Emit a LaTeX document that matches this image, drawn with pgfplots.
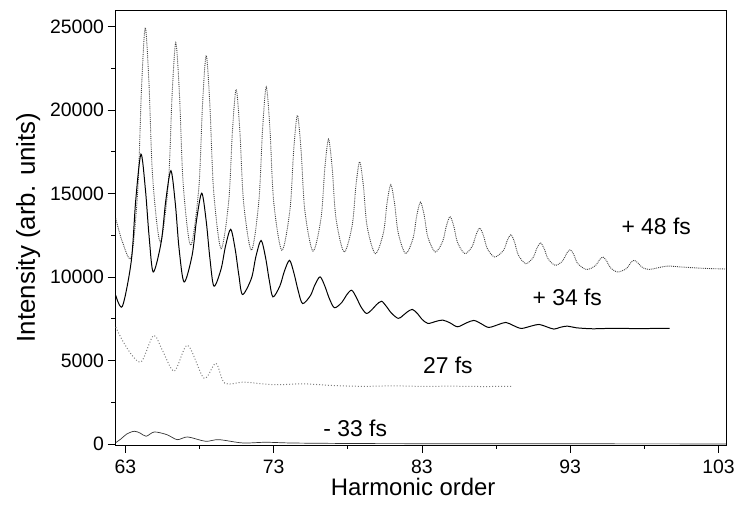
\documentclass[border=0pt]{standalone}
\usepackage{fontspec}
\setmainfont{Liberation Sans}
\usepackage{pgfplots}
\pgfplotsset{compat=1.18}
\begin{document}
\begin{tikzpicture}
\begin{axis}[name=ax,
  width=614pt, height=437pt, scale only axis,
  xmin=62.33, xmax=103.55, ymin=-60, ymax=26000,
  xtick={63,73,83,93,103}, minor xtick={68,78,88,98},
  ytick={0,5000,10000,15000,20000,25000}, minor ytick={2500,7500,12500,17500,22500},
  tick align=outside, tick pos=left,
  major tick length=8pt, minor tick length=4pt,
  scaled y ticks=false, scaled x ticks=false,
  /pgf/number format/1000 sep={},
  /pgf/number format/assume math mode=true,
  tick label style={font=\fontsize{19.5}{22}\selectfont},
  xticklabel style={yshift=-4pt},
  xlabel={Harmonic order}, ylabel={Intensity (arb. units)},
  every axis x label/.style={at={(axis description cs:0.487,-0.096)}, anchor=center, font=\fontsize{24}{28}\selectfont},
  every axis y label/.style={at={(axis description cs:-0.143,0.5)}, rotate=90, anchor=center, font=\fontsize{26}{30}\selectfont},
  axis line style={line width=0.8pt},
  every tick/.style={line width=0.8pt, black},
]
% +48 fs
\addplot[densely dotted, black!75, line width=0.9pt, smooth, tension=0.5] coordinates {
(62.35,13500)(62.8,12100)(63.4,11200)
(63.84,15320)(64.09,21370)(64.34,24940)(64.59,21600)(64.84,15950)(65.35,12100)
(65.9,15680)(66.15,20930)(66.4,24030)(66.65,20880)(66.9,15540)(67.4,11900)
(67.95,15310)(68.2,20310)(68.45,23270)(68.7,20260)(68.95,15170)(69.45,11700)
(69.97,14560)(70.22,18760)(70.47,21240)(70.72,18730)(70.97,14490)(71.5,11600)
(72.0,14530)(72.25,18840)(72.5,21380)(72.75,18840)(73.0,14530)(73.55,11600)
(74.1,14030)(74.35,17590)(74.6,19690)(74.85,17570)(75.1,13990)(75.65,11550)
(76.2,13560)(76.45,16520)(76.7,18260)(76.95,16500)(77.2,13530)(77.75,11500)
(78.3,13120)(78.55,15500)(78.8,16900)(79.05,15470)(79.3,13050)(79.85,11400)
(80.4,12640)(80.65,14460)(80.9,15530)(81.15,14430)(81.4,12640)(81.9,11400)
(82.4,12320)(82.65,13680)(82.9,14480)(83.15,13710)(83.4,12390)(83.9,11500)
(84.4,12140)(84.65,13070)(84.9,13620)(85.15,13040)(85.4,12070)(85.9,11400)
(86.4,11860)(86.65,12530)(86.9,12930)(87.15,12480)(87.4,11720)(87.9,11200)
(88.5,11600)(88.75,12180)(89.0,12530)(89.25,12080)(89.5,11320)(90.0,10800)
(90.5,11170)(90.75,11720)(91.0,12040)(91.25,11690)(91.5,11100)(92.0,10700)
(92.5,10980)(92.75,11400)(93.0,11640)(93.25,11330)(93.5,10810)(94.1,10450)
(94.7,10680)(94.95,11000)(95.2,11200)(95.45,10970)(95.7,10570)(96.2,10300)
(96.8,10510)(97.05,10820)(97.3,11000)(97.55,10860)(97.8,10620)(98.3,10450)
(99.5,10650)(100.5,10600)(102,10520)(103.5,10480)
};
% +34 fs
\addplot[black, line width=1pt, smooth, tension=0.5] coordinates {
(62.35,8900)(62.8,8250)
(63.4,10980)(63.7,14630)(64.05,17360)(64.35,15240)(64.6,12420)(64.88,10300)
(65.42,12120)(65.72,14550)(66.07,16370)(66.37,14370)(66.62,11700)(66.96,9700)
(67.5,11300)(67.8,13420)(68.15,15020)(68.45,13350)(68.7,11120)(68.97,9450)
(69.45,10470)(69.75,11840)(70.1,12860)(70.4,11690)(70.65,10120)(70.9,8950)
(71.5,9920)(71.8,11220)(72.15,12190)(72.45,11180)(72.7,9820)(72.95,8810)
(73.42,9470)(73.72,10340)(74.07,11000)(74.37,10220)(74.65,9190)(74.95,8410)
(75.48,8890)(75.78,9530)(76.13,10010)(76.45,9460)(76.75,8720)(77.1,8160)
(77.6,8480)(77.9,8900)(78.25,9210)(78.57,8790)(78.87,8240)(79.25,7820)
(79.62,8040)(79.92,8330)(80.27,8550)(80.6,8240)(80.95,7830)(81.4,7520)
(81.7,7680)(82.0,7900)(82.35,8060)(82.7,7810)(83.0,7470)(83.4,7220)
(83.9,7330)(84.4,7420)(84.9,7250)(85.4,7020)
(86.0,7250)(86.5,7400)(87.0,7200)(87.5,6980)
(88.15,7150)(88.66,7280)(89.15,7100)(89.7,6920)
(90.4,7070)(90.9,7160)(91.4,7020)(91.9,6880)
(92.3,6980)(92.8,7060)(93.4,6960)(94.5,6900)(96,6930)(97.5,6910)(99.7,6930)
};
% 27 fs
\addplot[dotted, black!50, line width=1pt, smooth, tension=0.5] coordinates {
(62.35,7000)(62.8,6200)(63.5,5250)(64.1,4950)(64.9,6500)(65.5,5600)(66.3,4360)
(67.2,5910)(68.3,3940)(69.1,4830)(69.7,3640)(71,3700)(73,3550)(75,3600)(77,3500)
(79,3450)(81,3480)(83,3450)(85,3460)(87,3440)(89.1,3450)
};
% -33 fs
\addplot[black!80, line width=0.7pt, smooth, tension=0.5] coordinates {
(62.35,80)(62.7,300)(63.1,600)(63.6,760)(64.0,650)(64.4,460)(64.95,716)(65.8,555)
(66.5,257)(67.2,418)(68.4,160)(69.3,257)(70.9,60)(72.45,100)(74,60)(76,40)(80,20)
(90,10)(103.5,0)
};
\node[font=\fontsize{23}{27}\selectfont] at (axis cs:98.8,13060) {+ 48 fs};
\node[font=\fontsize{23}{27}\selectfont] at (axis cs:92.8,8810) {+ 34 fs};
\node[font=\fontsize{23}{27}\selectfont] at (axis cs:84.75,4680) {27 fs};
\node[font=\fontsize{23}{27}\selectfont] at (axis cs:78.5,910) {- 33 fs};
\end{axis}
\path ([shift={(-116pt,-71pt)}]ax.south west) rectangle ([shift={(8pt,10pt)}]ax.north east);
\end{tikzpicture}
\end{document}
